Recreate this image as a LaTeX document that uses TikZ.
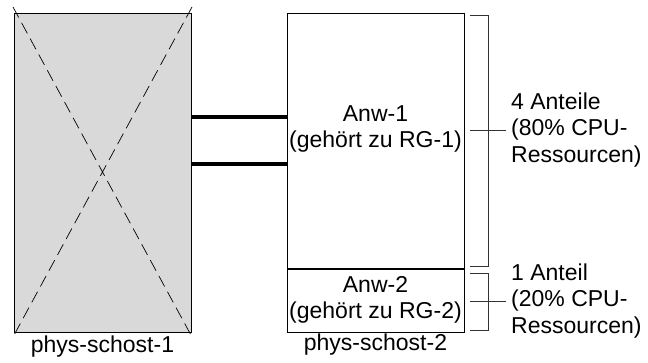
\documentclass[tikz,border=0pt]{standalone}
\usepackage{fontspec}
\setmainfont{Liberation Sans}
\usetikzlibrary{calc,positioning}

\tikzset{
  hostbox/.style={draw=black,line width=0.9pt,minimum width=177pt,inner sep=0pt,outer sep=0pt},
  txt/.style={font=\fontsize{23}{26.5}\selectfont,align=center,inner sep=1pt},
  link/.style={line width=4pt},
  brace/.style={draw=black!80,line width=0.9pt},
}

\begin{document}
\begin{tikzpicture}[x=1pt,y=1pt]
\useasboundingbox (0,0) rectangle (648,362);
% Drawing hosts
\node[hostbox,fill=black!15,minimum height=319pt] (host1) at (102.5,189.5) {};
\draw[dash pattern=on 12pt off 6pt,line width=0.7pt]
  ($(host1.north west)+(-1,6)$) -- ($(host1.south east)+(1,-5)$)
  ($(host1.north east)+(1,6)$) -- ($(host1.south west)+(-1,-5)$);
\node[hostbox,minimum height=256pt] (app1) at (375.5,221) {};
\node[hostbox,minimum height=63pt] (app2) at (375.5,61.5) {};
\draw[line width=2pt] (app1.south west) -- (app1.south east);
\node[txt] (app1txt) at (375.5,233) {Anw-1\\(gehört zu RG-1)};
\node[txt] (app2txt) at (375.5,62) {Anw-2\\(gehört zu RG-2)};
\node[txt,below=3pt of host1] (host1txt) {phys-schost-1};
\node[txt,below=1pt of app2] (host2txt) {phys-schost-2};
% Done with hosts; drawing interconnect
\path ([yshift=55.5pt]host1.east) coordinate (ic1)
      ([yshift=8.5pt]host1.east) coordinate (ic2);
\draw[link] (ic1) -- (ic1 -| app1.west);
\draw[link] (ic2) -- (ic2 -| app1.west);
% Done with interconnect; drawing shares
\node[txt,anchor=west,align=left] (share1) at (510,232) {4 Anteile\\(80\% CPU-\\Ressourcen)};
\node[txt,anchor=west,align=left] (share2) at (510,61) {1 Anteil\\(20\% CPU-\\Ressourcen)};
\coordinate (b1t) at (470,347);
\coordinate (b1b) at (470,96);
\coordinate (b2t) at (470,89);
\coordinate (b2b) at (470,32);
\draw[brace] (b1t) -- ++(18,0) |- (b1b);
\draw[brace] (share1.west) ++(-4,0) -- (share1.west -| b1t) ++(18,0);
\draw[brace] (b2t) -- ++(18,0) |- (b2b);
\draw[brace] (share2.west) ++(-4,0) -- (share2.west -| b2t) ++(18,0);
% Done with shares
\end{tikzpicture}
\end{document}
